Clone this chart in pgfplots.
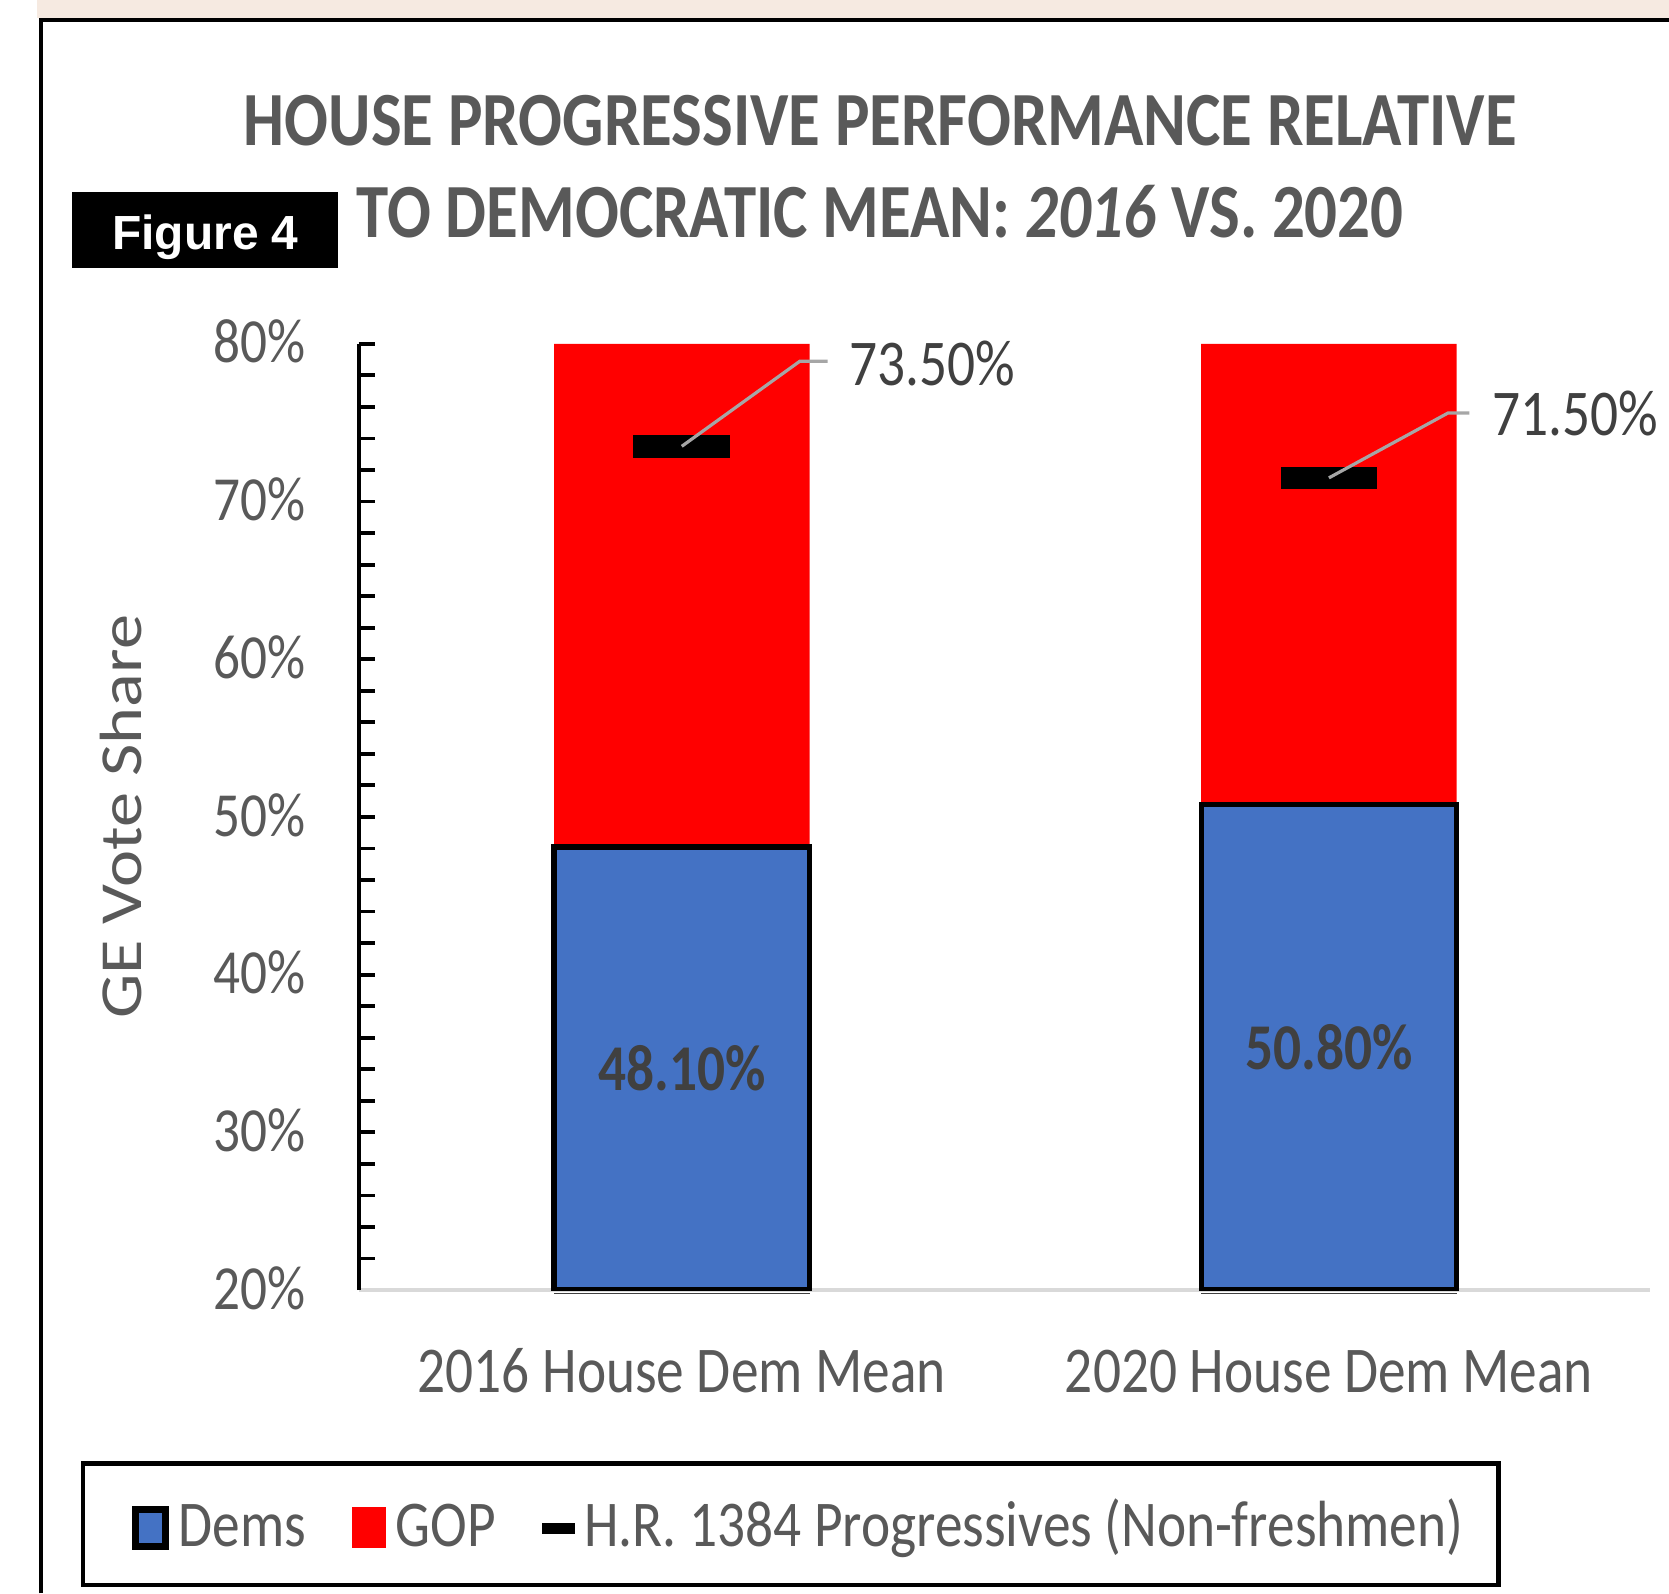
\documentclass[border=0pt]{standalone}
\usepackage{pgfplots}
\pgfplotsset{compat=1.18}
\usepackage{pgfplotstable}
\usepackage{fontspec}
\usepackage{graphicx}
\setmainfont{Carlito}
\newfontfamily\arialfont{Liberation Sans}
\definecolor{beige}{HTML}{F6EAE1}
\definecolor{txtgray}{HTML}{595959}
\definecolor{lblgray}{HTML}{404040}
\definecolor{demblue}{HTML}{4472C4}
\definecolor{gopred}{HTML}{FF0000}
\definecolor{leadgray}{HTML}{A6A6A6}
\definecolor{axgray}{HTML}{D9D9D9}
\newcommand{\vs}[1]{\scalebox{1}[1.18]{#1}}

\pgfplotstableread{
x dems gop hr
0 48.1 80 73.5
1 50.8 80 71.5
}\datatable

\pgfdeclareplotmark{hrbar}{\pgfpathrectangle{\pgfpoint{-22.75pt}{-5.25pt}}{\pgfpoint{45.5pt}{10.5pt}}\pgfusepathqfill}

\begin{document}
\begin{tikzpicture}
\path[use as bounding box] (0,0) rectangle (784pt,-748.5pt);
\begin{scope}[x=0.5pt,y=-0.5pt]
\fill[beige] (35,0) rectangle (1568,17);
\draw[black, line width=1.75pt] (38.5,1497) -- (38.5,18.5) -- (1568,18.5);
\fill[black] (68,180) rectangle (318,252);
\node[text=white, font=\arialfont\bfseries\fontsize{22.5pt}{27pt}\selectfont, anchor=base] at (193,234) {Figure 4};
\node[text=txtgray, font=\bfseries\fontsize{30.5pt}{36pt}\selectfont, anchor=base] at (827,137) {\vs{HOUSE PROGRESSIVE PERFORMANCE RELATIVE}};
\node[text=txtgray, font=\bfseries\fontsize{30.5pt}{36pt}\selectfont, anchor=base] at (827,223) {\vs{TO DEMOCRATIC MEAN: \textit{2016} VS. 2020}};
\end{scope}
\begin{axis}[
  at={(168.5pt,-606pt)}, anchor=south west,
  scale only axis, width=606.5pt, height=444.5pt,
  xmin=-0.4992, xmax=1.4959, ymin=20, ymax=80,
  axis x line=bottom, axis y line=left,
  x axis line style={draw=axgray, line width=1.5pt, -},
  y axis line style={draw=black, line width=2pt, -},
  xtick={0,1},
  xticklabels={\vs{2016 House Dem Mean},\vs{2020 House Dem Mean}},
  xtick style={draw=none},
  ytick={20,30,40,50,60,70,80},
  yticklabels={\vs{20\%},\vs{30\%},\vs{40\%},\vs{50\%},\vs{60\%},\vs{70\%},\vs{80\%}},
  minor y tick num=4,
  tick align=inside,
  ytick style={black, line width=1.8pt},
  major tick length=7.5pt, minor tick length=7.5pt,
  yticklabel style={anchor=base east, inner sep=0pt, xshift=-25pt, yshift=-9pt, text=txtgray, font=\fontsize{25pt}{30pt}\selectfont},
  xticklabel style={anchor=base, inner sep=0pt, yshift=-48pt, text=txtgray, font=\fontsize{26pt}{31pt}\selectfont},
  ylabel={\scalebox{1.18}[1]{GE Vote Share}},
  ylabel style={at={(axis description cs:-0.184,0.5)}, anchor=center, text=txtgray, font=\fontsize{28pt}{33pt}\selectfont},
  legend columns=-1,
  legend style={at={(axis description cs:-0.2152,-0.1811)}, anchor=north west,
    draw=black, line width=2pt, inner xsep=23pt, inner ysep=12pt,
    font=\fontsize{26pt}{31pt}\selectfont, text=txtgray,
    cells={anchor=base west},
    nodes={inner sep=4.5pt, text=txtgray},
    /tikz/every even column/.append style={column sep=17pt}},
]
\addplot[ybar, bar width=120pt, bar shift=0pt, fill=gopred, draw=none, forget plot] table[x=x,y=gop]{\datatable};
\addplot[ybar, bar width=120pt, bar shift=0pt, fill=demblue, draw=black, line width=2.5pt,
  legend image code/.code={\draw[fill=demblue, draw=black, line width=3.2pt] (1.6pt,0.1pt) rectangle (15.9pt,17.4pt);}]
  table[x=x,y=dems]{\datatable};
\addlegendentry{\vs{Dems}}
\addlegendimage{legend image code/.code={\fill[gopred] (0pt,0.5pt) rectangle (14pt,17.5pt);}}
\addlegendentry{\vs{GOP}}
\addplot[only marks, mark=hrbar, mark options={fill=black, draw=none}, black, forget plot] table[x=x,y=hr]{\datatable};
\addlegendimage{legend image code/.code={\fill[black] (0pt,7pt) rectangle (13.5pt,10pt);}}
\addlegendentry{\vs{H.R. 1384 Progressives (Non-freshmen)}\kern-11pt}
% data labels
\node[text=lblgray, font=\bfseries\fontsize{26pt}{31pt}\selectfont, anchor=center] at (axis cs:0,34.05) {\vs{48.10\%}};
\node[text=lblgray, font=\bfseries\fontsize{26pt}{31pt}\selectfont, anchor=center] at (axis cs:1,35.4) {\vs{50.80\%}};
\coordinate (m1) at (axis cs:0,73.5);
\coordinate (m2) at (axis cs:1,71.5);
\coordinate (b1) at (axis cs:0,20);
\coordinate (b2) at (axis cs:1,20);
\end{axis}
\draw[black!75, line width=0.8pt] ([shift={(-60pt,-1.6pt)}]b1) -- ++(120pt,0pt);
\draw[black!75, line width=0.8pt] ([shift={(-60pt,-1.6pt)}]b2) -- ++(120pt,0pt);
\draw[leadgray, line width=1.5pt] (m1) -- ++(55.5pt,40pt) -- ++(13pt,0pt)
  node[anchor=base west, inner sep=0pt, xshift=9.5pt, yshift=-11.5pt, text=lblgray, font=\fontsize{26pt}{31pt}\selectfont] {\vs{73.50\%}};
\draw[leadgray, line width=1.5pt] (m2) -- ++(56pt,30.5pt) -- ++(10pt,0pt)
  node[anchor=base west, inner sep=0pt, xshift=10pt, yshift=-10.5pt, text=lblgray, font=\fontsize{26pt}{31pt}\selectfont] {\vs{71.50\%}};
\end{tikzpicture}
\end{document}
